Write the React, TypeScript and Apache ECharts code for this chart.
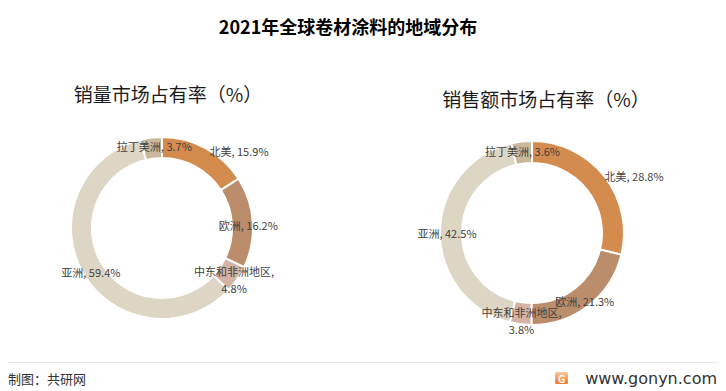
import React, { useEffect, useRef } from "react";
import * as echarts from "echarts";

const regions = ["北美", "欧洲", "中东和非洲地区", "亚洲", "拉丁美洲"];
const volumeShare = [15.9, 16.2, 4.8, 59.4, 3.7];
const salesShare = [28.8, 21.3, 3.8, 42.5, 3.6];
const sliceColors = ["#D48B4E", "#BC8D6B", "#D4B3A5", "#DED6C5", "#C9B89C"];

const mainTitle = "2021年全球卷材涂料的地域分布";
const leftTitle = "销量市场占有率（%）";
const rightTitle = "销售额市场占有率（%）";
const sourceText = "制图：共研网";
const siteText = "www.gonyn.com";

const FONT = "'Noto Sans CJK SC', 'Noto Sans', sans-serif";

function labelText(name: string, v: number) {
  if (name === "中东和非洲地区") return `${name},\n${v.toFixed(1)}%`;
  return `${name}, ${v.toFixed(1)}%`;
}

function buildSeries(values: number[], center: [number, number], radius: [number, number], offsets: number[][]) {
  return {
    type: "pie",
    center,
    radius,
    startAngle: 90,
    clockwise: true,
    avoidLabelOverlap: false,
    minShowLabelAngle: 0,
    silent: true,
    itemStyle: { borderColor: "#ffffff", borderWidth: 2 },
    label: {
      show: true,
      position: "inside",
      color: "#404040",
      fontSize: 11,
      fontFamily: FONT,
      lineHeight: 17,
      align: "center",
      overflow: "none",
      formatter: (p: any) => labelText(p.name, p.value),
    },
    labelLayout: { hideOverlap: false },
    labelLine: { show: false },
    emphasis: { disabled: true },
    data: regions.map((name, i) => ({
      name,
      value: values[i],
      itemStyle: { color: sliceColors[i] },
      label: { offset: offsets[i] },
    })),
  };
}

export default function App() {
  const ref = useRef<HTMLDivElement>(null);
  useEffect(() => {
    document.body.style.margin = "0";
    const chart = echarts.init(ref.current!, null, { renderer: "svg" });
    chart.setOption({
      animation: false,
      backgroundColor: "#ffffff",
      graphic: [
        {
          type: "text",
          x: 348,
          y: 26,
          style: { text: mainTitle, font: `bold 18px ${FONT}`, fill: "#000000", textAlign: "center", textVerticalAlign: "middle" },
        },
        {
          type: "text",
          x: 168,
          y: 93,
          style: { text: leftTitle, font: `19px ${FONT}`, fill: "#1a1a1a", textAlign: "center", textVerticalAlign: "middle" },
        },
        {
          type: "text",
          x: 546,
          y: 98,
          style: { text: rightTitle, font: `19px ${FONT}`, fill: "#1a1a1a", textAlign: "center", textVerticalAlign: "middle" },
        },
        {
          type: "line",
          shape: { x1: 8, y1: 362.5, x2: 718, y2: 362.5 },
          style: { stroke: "#e8e8e8", lineWidth: 1 },
        },
        {
          type: "text",
          x: 8,
          y: 378,
          style: { text: sourceText, font: `13px ${FONT}`, fill: "#333333", textVerticalAlign: "middle" },
        },
        {
          type: "rect",
          shape: { x: 555, y: 372, width: 13, height: 12, r: 1.5 },
          style: {
            fill: new echarts.graphic.LinearGradient(0, 0, 0, 1, [
              { offset: 0, color: "#FBC9A0" },
              { offset: 0.45, color: "#F6A56A" },
              { offset: 1, color: "#F07A2E" },
            ]),
          },
        },
        {
          type: "text",
          x: 561.5,
          y: 378.5,
          style: { text: "G", font: `bold 10px ${FONT}`, fill: "#ffffff", textAlign: "center", textVerticalAlign: "middle" },
        },
        {
          type: "text",
          x: 717,
          y: 378,
          style: { text: siteText, font: `16px 'DejaVu Sans', sans-serif`, fill: "#333333", textAlign: "right", textVerticalAlign: "middle" },
        },
      ],
      series: [
        buildSeries(volumeShare, [162, 228], [70, 91], [[37, -4], [3, 2], [3, 5], [1, 2], [2, 1]]),
        buildSeries(salesShare, [532, 233], [70, 92], [[36, -5], [1, 2], [0, 4], [-1, 1], [0, 1]]),
      ],
    });
    return () => chart.dispose();
  }, []);
  return <div ref={ref} style={{ width: 726, height: 391 }} />;
}
